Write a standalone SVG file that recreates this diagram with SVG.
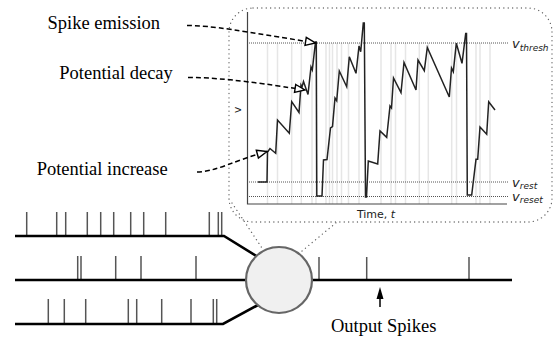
<svg xmlns="http://www.w3.org/2000/svg" width="554" height="343" viewBox="0 0 554 343">
<style>
.lbl{font-family:"Liberation Serif","Times New Roman",serif;font-size:18.5px;fill:#000}
.sans{font-family:"DejaVu Sans",sans-serif;fill:#222}
.grid{stroke:#e6e6e6;stroke-width:1.5}
.ref{stroke:#555;stroke-width:1;stroke-dasharray:1 1;fill:none}
.axis{stroke:#444;stroke-width:1.2;fill:none}
.trace{stroke:#222;stroke-width:1.5;fill:none;stroke-linejoin:miter}
.frame{stroke:#666;stroke-width:1.3;stroke-dasharray:0.1 4.3;stroke-linecap:round;fill:none}
.lead{stroke:#000;stroke-width:1.5;stroke-dasharray:5 3;fill:none}
.base{stroke:#000;stroke-width:2.6;fill:none;stroke-linejoin:miter}
.tick{stroke:#555;stroke-width:1.5}
</style>
<defs>
<marker id="open" markerUnits="userSpaceOnUse" markerWidth="14" markerHeight="12" refX="10" refY="4" orient="auto" overflow="visible">
<path d="M0,0 L10,4 L0,8 Z" fill="#fff" stroke="#000" stroke-width="1.4"/>
</marker>
</defs>

<g id="zoom-frame">
<rect class="frame" x="229" y="8" width="323" height="214" rx="24" ry="24"/>
<line class="frame" x1="232" y1="203" x2="262" y2="248"/>
<line class="frame" x1="302" y1="251" x2="337" y2="222"/>
</g>

<g id="plot">
<g id="grid">
<line class="grid" x1="267.5" y1="43" x2="267.5" y2="204"/>
<line class="grid" x1="277.5" y1="43" x2="277.5" y2="204"/>
<line class="grid" x1="291.7" y1="43" x2="291.7" y2="204"/>
<line class="grid" x1="301.3" y1="43" x2="301.3" y2="204"/>
<line class="grid" x1="312" y1="43" x2="312" y2="204"/>
<line class="grid" x1="316" y1="43" x2="316" y2="204"/>
<line class="grid" x1="326" y1="43" x2="326" y2="204"/>
<line class="grid" x1="329.5" y1="43" x2="329.5" y2="204"/>
<line class="grid" x1="332.5" y1="43" x2="332.5" y2="204"/>
<line class="grid" x1="337" y1="43" x2="337" y2="204"/>
<line class="grid" x1="341.5" y1="43" x2="341.5" y2="204"/>
<line class="grid" x1="348.5" y1="43" x2="348.5" y2="204"/>
<line class="grid" x1="359" y1="43" x2="359" y2="204"/>
<line class="grid" x1="381" y1="43" x2="381" y2="204"/>
<line class="grid" x1="391" y1="43" x2="391" y2="204"/>
<line class="grid" x1="395.5" y1="43" x2="395.5" y2="204"/>
<line class="grid" x1="405.5" y1="43" x2="405.5" y2="204"/>
<line class="grid" x1="419.3" y1="43" x2="419.3" y2="204"/>
<line class="grid" x1="428.3" y1="43" x2="428.3" y2="204"/>
<line class="grid" x1="451.7" y1="43" x2="451.7" y2="204"/>
<line class="grid" x1="456.5" y1="43" x2="456.5" y2="204"/>
<line class="grid" x1="476" y1="43" x2="476" y2="204"/>
<line class="grid" x1="480" y1="43" x2="480" y2="204"/>
<line class="grid" x1="490" y1="43" x2="490" y2="204"/>
</g>
<line class="ref" x1="247" y1="43" x2="508" y2="43"/>
<line class="ref" x1="247" y1="182" x2="508" y2="182"/>
<line class="ref" x1="247" y1="196.5" x2="508" y2="196.5"/>
<path class="axis" d="M247.5,12 L247.5,204 L507,204"/>
<path class="trace" d="M258,182 L267,182 L267.5,152 L270,148.5 L275.7,153.3 L277.5,120 L289.3,133.3 L291.7,101.7 L299,112.5 L301,85 L302,87 L303.5,81.5 L308,94.5 L311,67 L312.3,70 L315.5,42 L316.3,42 L316.8,196 L322,196 L323.5,160 L327,159.5 L330.5,128 L332.5,126.5 L335,98 L336.7,100.7 L339.3,71 L346.7,86.7 L349.3,56.7 L356,73.3 L359,46 L360.7,51.7 L363.3,23 L364.3,23 L365.5,197 L366.5,197 L368.3,161 L377.7,164 L380,131 L386.7,137.3 L390,106 L391.5,108 L393.5,78 L401,92.7 L404,62.5 L416,90 L418,60 L424.3,70.7 L427.3,47.5 L449.3,97 L451.5,68 L453.3,71.7 L456.3,43.3 L462,63.3 L465.7,33.5 L466.5,33.5 L467.3,195 L471.7,195 L476,159.3 L477.7,159.3 L480,127 L486.7,134.3 L488.7,101.7 L495,110"/>
<text class="sans" font-size="10.5" transform="translate(240.5,110) rotate(-90)" text-anchor="middle">v</text>
<text class="sans" font-size="11" x="376" y="218" text-anchor="middle">Time, <tspan font-style="italic">t</tspan></text>
<text class="sans" font-style="italic" x="512" y="48" font-size="13">v<tspan font-size="9" dy="2.5">thresh</tspan></text>
<text class="sans" font-style="italic" x="512" y="186.5" font-size="13">v<tspan font-size="9" dy="2.5">rest</tspan></text>
<text class="sans" font-style="italic" x="512" y="200.5" font-size="13">v<tspan font-size="9" dy="2.5">reset</tspan></text>
</g>

<g id="annotations">
<text class="lbl" x="47.5" y="29">Spike emission</text>
<text class="lbl" x="59.3" y="79">Potential decay</text>
<text class="lbl" x="36.7" y="175">Potential increase</text>
<path class="lead" d="M187,25.5 C212,25.5 242,31 315.5,43" marker-end="url(#open)"/>
<path class="lead" d="M188,77.5 C212,77.5 242,80 305,90" marker-end="url(#open)"/>
<path class="lead" d="M197,172 C215,172 236,160 267,151.5" marker-end="url(#open)"/>
</g>

<g id="input-train-1">
<g class="tick">
<line x1="26.7" y1="212" x2="26.7" y2="236"/><line x1="56.7" y1="212" x2="56.7" y2="236"/><line x1="65.7" y1="212" x2="65.7" y2="236"/><line x1="87.3" y1="212" x2="87.3" y2="236"/><line x1="100.7" y1="212" x2="100.7" y2="236"/><line x1="113.7" y1="212" x2="113.7" y2="236"/><line x1="130.7" y1="212" x2="130.7" y2="236"/><line x1="143.7" y1="212" x2="143.7" y2="236"/><line x1="165.7" y1="212" x2="165.7" y2="236"/><line x1="209.3" y1="212" x2="209.3" y2="236"/><line x1="218.3" y1="212" x2="218.3" y2="236"/><line x1="221.7" y1="212" x2="221.7" y2="236"/>
</g>
</g>
<g id="input-train-2">
<g class="tick">
<line x1="77.7" y1="256" x2="77.7" y2="280"/><line x1="81" y1="256" x2="81" y2="280"/><line x1="115.7" y1="256" x2="115.7" y2="280"/><line x1="141" y1="256" x2="141" y2="280"/><line x1="196" y1="256" x2="196" y2="280"/>
</g>
</g>
<g id="input-train-3">
<g class="tick">
<line x1="48.3" y1="299" x2="48.3" y2="324"/><line x1="64.3" y1="299" x2="64.3" y2="324"/><line x1="85.7" y1="299" x2="85.7" y2="324"/><line x1="128.3" y1="299" x2="128.3" y2="324"/><line x1="136.7" y1="299" x2="136.7" y2="324"/><line x1="161.7" y1="299" x2="161.7" y2="324"/><line x1="191" y1="299" x2="191" y2="324"/><line x1="213.3" y1="299" x2="213.3" y2="324"/><line x1="216.7" y1="299" x2="216.7" y2="324"/>
</g>
</g>
<g id="output-train">
<g class="tick">
<line x1="319" y1="257" x2="319" y2="280"/><line x1="366.7" y1="257" x2="366.7" y2="280"/><line x1="469" y1="257" x2="469" y2="280"/>
</g>
</g>

<g id="connectors">
<path class="base" d="M15,236 L224,236 L258,257"/>
<path class="base" d="M15,280 L250,280"/>
<path class="base" d="M15,324 L223,324 L258,305"/>
<path class="base" d="M310,280 L512,280"/>
<line x1="380" y1="307" x2="380" y2="297" stroke="#000" stroke-width="1.5"/>
<polygon points="380,287 376.5,299 383.5,299" fill="#000"/>
</g>

<g id="neuron">
<circle cx="279" cy="280" r="33" fill="#f0f0f0" stroke="#666" stroke-width="2.2"/>
</g>

<g id="output-label">
<text class="lbl" x="331" y="331.5">Output Spikes</text>
</g>
</svg>
